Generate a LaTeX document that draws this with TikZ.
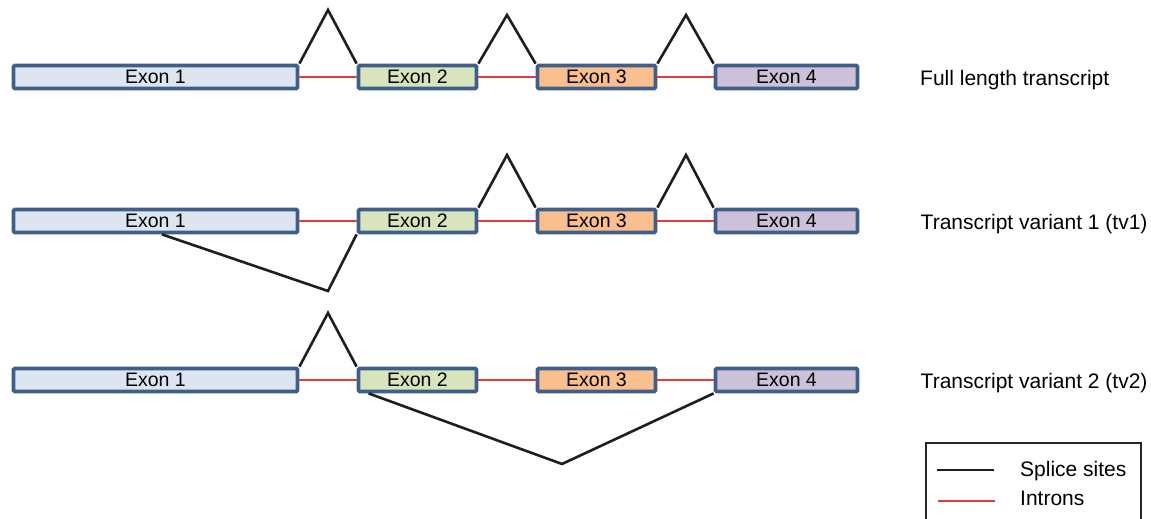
\documentclass[tikz,border=0pt]{standalone}
\usepackage{fontspec}
\setmainfont{Liberation Sans}
\definecolor{exonborder}{RGB}{64,94,138}
\definecolor{fillA}{RGB}{220,229,240}
\definecolor{fillB}{RGB}{215,228,188}
\definecolor{fillC}{RGB}{249,191,143}
\definecolor{fillD}{RGB}{204,193,217}
\definecolor{intronred}{RGB}{228,58,58}
\definecolor{splice}{RGB}{30,30,30}
\tikzset{
  exon/.style={draw=exonborder, line width=3.8pt, rounded corners=1.2pt,
    minimum height=23pt, inner sep=0pt, font=\fontsize{19.5}{21}\selectfont},
  ex1/.style={exon, fill=fillA, minimum width=284pt},
  ex2/.style={exon, fill=fillB, minimum width=118pt},
  ex3/.style={exon, fill=fillC, minimum width=118pt},
  ex4/.style={exon, fill=fillD, minimum width=142pt},
  intron/.style={draw=intronred, line width=1.1pt},
  splicing/.style={draw=splice, line width=2.6pt, line join=miter},
  rowlabel/.style={anchor=base west, inner sep=0pt, font=\fontsize{21}{23}\selectfont},
  legendtext/.style={anchor=base west, inner sep=0pt, font=\fontsize{21}{23}\selectfont},
}
\begin{document}
\begin{tikzpicture}[x=1pt, y=-1pt]
\useasboundingbox (0,0) rectangle (1151,519);

% ---- full length transcript ----
\node[ex1] (a1) at (155.5,77) {Exon 1};
\node[ex2] (a2) at (417.5,77) {Exon 2};
\node[ex3] (a3) at (596.5,77) {Exon 3};
\node[ex4] (a4) at (786.5,77) {Exon 4};
\draw[intron] (a1.east) -- (a2.west);
\draw[intron] (a2.east) -- (a3.west);
\draw[intron] (a3.east) -- (a4.west);
\coordinate (pa1) at (328,10);
\coordinate (pa2) at (507,15);
\coordinate (pa3) at (686,15);
\draw[splicing] (a1.north east) -- (pa1) -- (a2.north west);
\draw[splicing] (a2.north east) -- (pa2) -- (a3.north west);
\draw[splicing] (a3.north east) -- (pa3) -- (a4.north west);
\node[rowlabel] (la) at (920,85) {Full length transcript};

% ---- transcript variant 1 ----
\node[ex1] (b1) at (155.5,221) {Exon 1};
\node[ex2] (b2) at (417.5,221) {Exon 2};
\node[ex3] (b3) at (596.5,221) {Exon 3};
\node[ex4] (b4) at (786.5,221) {Exon 4};
\draw[intron] (b1.east) -- (b2.west);
\draw[intron] (b2.east) -- (b3.west);
\draw[intron] (b3.east) -- (b4.west);
\coordinate (pb2) at (507,155);
\coordinate (pb3) at (686,155);
\coordinate (vb1) at (328,291);
\draw[splicing] (b2.north east) -- (pb2) -- (b3.north west);
\draw[splicing] (b3.north east) -- (pb3) -- (b4.north west);
\draw[splicing] ([xshift=6.5pt]b1.south) -- (vb1) -- (b2.south west);
\node[rowlabel] (lb) at (920.5,229) {Transcript variant 1 (tv1)};

% ---- transcript variant 2 ----
\node[ex1] (c1) at (155.5,380) {Exon 1};
\node[ex2] (c2) at (417.5,380) {Exon 2};
\node[ex3] (c3) at (596.5,380) {Exon 3};
\node[ex4] (c4) at (786.5,380) {Exon 4};
\draw[intron] (c1.east) -- (c2.west);
\draw[intron] (c2.east) -- (c3.west);
\draw[intron] (c3.east) -- (c4.west);
\coordinate (pc1) at (328,313);
\coordinate (vc2) at (562,464);
\draw[splicing] (c1.north east) -- (pc1) -- (c2.north west);
\draw[splicing] ([xshift=12pt]c2.south west) -- (vc2) -- (c4.south west);
\node[rowlabel] (lc) at (920.5,388) {Transcript variant 2 (tv2)};

% ---- legend ----
\draw[line width=1.2pt, draw=black!85] (926,443) rectangle (1141,530);
\coordinate (ks1) at (937,470);
\coordinate (ks2) at (994,470);
\coordinate (ki1) at (938,501);
\coordinate (ki2) at (995,501);
\draw[splicing] (ks1) -- (ks2);
\draw[intron] (ki1) -- (ki2);
\node[legendtext] (lsplice) at (1020,476.5) {Splice sites};
\node[legendtext] (lintron) at (1020,505.5) {Introns};
\end{tikzpicture}
\end{document}
